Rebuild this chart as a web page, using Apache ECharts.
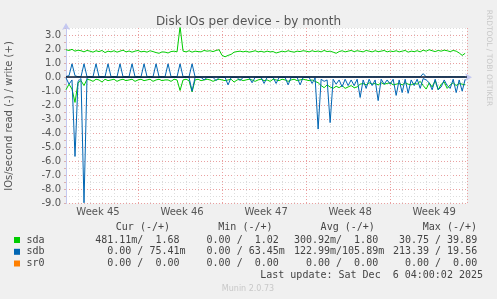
<!DOCTYPE html>
<html>
<head>
<meta charset="utf-8">
<script src="https://cdn.jsdelivr.net/npm/echarts@6/dist/echarts.min.js"></script>
<style>html,body{margin:0;padding:0;background:#f0f0f0;}#c{width:497px;height:299px;}</style>
</head>
<body>
<div id="c"></div>
<script>
// ---- data (one value every 6 hours, x in days from the left edge) ----
const STEP_DAYS = 0.25;
const weekLabels = {3: 'Week 45', 10: 'Week 46', 17: 'Week 47', 24: 'Week 48', 31: 'Week 49'};

const sdaWrite = [
  1.95,1.9,1.98,1.85,1.92,1.88,1.8,1.9,1.85,1.78,
  1.88,1.82,1.9,1.75,1.85,1.8,1.88,1.78,1.85,1.92,
  1.8,1.86,1.78,1.85,1.9,1.8,1.84,1.78,1.88,1.82,
  1.75,1.7,1.8,1.78,1.72,1.82,1.85,1.8,3.6,1.85,
  1.8,1.88,1.78,1.85,1.82,1.8,1.9,1.85,1.88,1.82,
  1.9,1.95,1.55,1.45,1.55,1.62,1.78,1.82,1.85,1.8,
  1.85,1.78,1.82,1.88,1.8,1.84,1.78,1.85,1.8,1.82,
  1.72,1.78,1.85,1.8,1.88,1.82,1.78,1.85,1.82,1.88,
  1.85,1.8,1.88,1.82,1.86,1.8,1.9,1.82,1.85,1.78,
  1.7,1.82,1.88,1.8,1.85,1.9,1.82,1.88,1.84,1.8,
  1.9,1.85,1.8,1.88,1.82,1.85,1.9,1.8,1.86,1.82,
  1.88,1.8,1.85,1.9,1.78,1.85,1.82,1.88,1.8,1.92,
  1.85,1.95,1.88,1.82,1.9,1.85,1.92,1.88,1.82,1.9,
  1.85,1.72,1.55,1.7
];
const sdaRead = [
  -0.9,-0.5,-0.85,-1.8,-0.4,-0.25,-0.6,-0.15,-0.2,-0.3,
  -0.15,-0.2,-0.35,-0.15,-0.25,-0.2,-0.15,-0.3,-0.2,-0.15,
  -0.25,-0.2,-0.15,-0.3,-0.2,-0.15,-0.25,-0.2,-0.15,-0.3,
  -0.2,-0.15,-0.25,-0.2,-0.2,-0.3,-0.15,-0.2,-0.95,-0.2,
  -0.15,-0.25,-1.05,-0.2,-0.15,-0.25,-0.2,-0.15,-0.2,-0.3,
  -0.2,-0.15,-0.2,-0.25,-0.2,-0.15,-0.35,-0.2,-0.15,-0.25,
  -0.2,-0.15,-0.2,-0.3,-0.2,-0.15,-0.25,-0.2,-0.3,-0.15,
  -0.2,-0.25,-0.15,-0.2,-0.3,-0.2,-0.15,-0.25,-0.2,-0.15,
  -0.2,-0.25,-0.2,-0.3,-0.4,-0.6,-0.75,-0.55,-0.7,-0.8,
  -0.65,-0.75,-0.6,-0.8,-0.7,-0.6,-0.75,-0.7,-0.5,-0.45,
  -0.55,-0.4,-0.5,-0.45,-0.55,-0.4,-0.5,-0.45,-0.4,-0.55,
  -0.5,-0.45,-0.55,-0.4,-0.5,-0.55,-0.45,-0.5,-0.3,-0.6,
  -0.85,-0.4,-0.7,-0.25,-0.9,-0.5,-0.35,-0.8,-0.55,-0.4,
  -0.6,-0.45,-0.5,-0.55
];
const sdbWrite = [
  0.05,0.1,0.95,0.1,0.03,0.03,0.95,0.03,0.05,0.03,
  0.95,0.03,0.05,0.03,0.95,0.03,0.05,0.03,0.95,0.03,
  0.05,0.03,0.95,0.03,0.05,0.03,0.95,0.03,0.05,0.03,
  0.95,0.03,0.05,0.03,0.95,0.03,0.05,0.03,0.95,0.03,
  0.05,0.03,0.95,0.03,0.02,0.02,0.02,0.02,0.02,0.02,
  0.02,0.02,0.02,0.02,0.02,0.02,0.02,0.02,0.02,0.02,
  0.02,0.02,0.02,0.02,0.02,0.02,0.02,0.02,0.02,0.02,
  0.02,0.02,0.02,0.02,0.02,0.02,0.02,0.02,0.02,0.02,
  0.02,0.02,0.02,0.02,0.02,0.02,0.02,0.02,0.02,0.02,
  0.02,0.02,0.02,0.02,0.02,0.02,0.02,0.02,0.02,0.02,
  0.02,0.02,0.02,0.02,0.02,0.02,0.02,0.02,0.02,0.02,
  0.02,0.02,0.02,0.02,0.02,0.02,0.02,0.02,0.02,0.25,
  0.02,0.02,0.02,0.02,0.02,0.02,0.02,0.02,0.02,0.02,
  0.02,0.02,0.02,0.02
];
const sdbRead = [
  -0.05,-0.5,-0.2,-5.65,-0.3,-0.1,-8.95,-0.05,-0.02,-0.02,
  -0.02,-0.02,-0.02,-0.02,-0.02,-0.02,-0.02,-0.02,-0.02,-0.02,
  -0.02,-0.02,-0.02,-0.02,-0.02,-0.02,-0.02,-0.02,-0.02,-0.02,
  -0.02,-0.02,-0.02,-0.02,-0.02,-0.02,-0.02,-0.02,-0.02,-0.02,
  -0.02,-0.02,-1.0,-0.02,-0.02,-0.02,-0.2,-0.02,-0.02,-0.02,
  -0.25,-0.02,-0.02,-0.02,-0.55,-0.02,-0.02,-0.02,-0.25,-0.02,
  -0.02,-0.02,-0.4,-0.02,-0.02,-0.02,-0.45,-0.02,-0.02,-0.02,
  -0.45,-0.02,-0.02,-0.02,-0.55,-0.02,-0.02,-0.02,-0.55,-0.02,
  -0.02,-0.02,-0.45,-0.05,-3.7,-0.15,-0.3,-0.2,-3.24,-0.15,
  -0.5,-0.2,-0.7,-0.15,-0.6,-0.2,-0.6,-0.15,-1.45,-0.2,
  -0.8,-0.15,-0.6,-0.2,-1.67,-0.15,-0.5,-0.2,-0.5,-0.15,
  -1.3,-0.2,-1.1,-0.15,-1.15,-0.2,-0.6,-0.15,-0.8,-0.1,
  -0.2,-0.4,-0.9,-0.15,-0.9,-0.7,-0.2,-0.6,-0.8,-0.15,
  -1.1,-0.2,-1.0,-0.15
];

const legendRows = ['sda', 'sdb', 'sr0'];
const legendColors = ['#00CC00', '#0066B3', '#FF8000'];
const legendHeaders = ['Cur (-/+)', 'Min (-/+)', 'Avg (-/+)', 'Max (-/+)'];
const legendCells = [
  ['481.11m/  1.68 ', '  0.00 /  1.02 ', '300.92m/  1.80 ', ' 30.75 / 39.89 '],
  ['  0.00 / 75.41m', '  0.00 / 63.45m', '122.99m/105.89m', '213.39 / 19.56 '],
  ['  0.00 /  0.00 ', '  0.00 /  0.00 ', '  0.00 /  0.00 ', '  0.00 /  0.00 ']
];
const lastUpdate = 'Last update: Sat Dec  6 04:00:02 2025';

// ---- chart ----
const toXY = arr => arr.map((v, i) => [i * STEP_DAYS, v]);
const chart = echarts.init(document.getElementById('c'), null, {renderer: 'canvas'});
const GRID_MINOR = '#dcdcdc';
const GRID_MAJOR = '#eaa0a0';
const mono = '"DejaVu Sans Mono", monospace';
const sans = '"DejaVu Sans", sans-serif';

const graphics = [];
graphics.push({type: 'text', x: 9, y: 116, rotation: Math.PI / 2,
  style: {text: 'IOs/second read (-) / write (+)', font: '10px ' + sans, fill: '#555', align: 'center', verticalAlign: 'middle'}});
graphics.push({type: 'text', x: 488.5, y: 58, rotation: -Math.PI / 2,
  style: {text: 'RRDTOOL / TOBI OETIKER', font: '7.5px ' + sans, fill: '#c8c8c8', align: 'center', verticalAlign: 'middle'}});
const colRight = [185.5, 284.8, 384.2, 483.2];
const headRight = [170, 272.5, 374.8, 477];
legendHeaders.forEach((h, j) => graphics.push({type: 'text', x: headRight[j], y: 227.5,
  style: {text: h, font: '10px ' + mono, fill: '#444', align: 'right', verticalAlign: 'middle'}}));
const rowY = [240, 251.8, 263.5];
legendRows.forEach((name, r) => {
  graphics.push({type: 'rect', shape: {x: 14, y: rowY[r] - 3, width: 6, height: 6}, style: {fill: legendColors[r]}});
  graphics.push({type: 'text', x: 26.5, y: rowY[r], style: {text: name, font: '10px ' + mono, fill: '#444', align: 'left', verticalAlign: 'middle'}});
  legendCells[r].forEach((c, j) => graphics.push({type: 'text', x: colRight[j], y: rowY[r],
    style: {text: c, font: '10px ' + mono, fill: '#444', align: 'right', verticalAlign: 'middle'}}));
});
graphics.push({type: 'text', x: 483, y: 275.7, style: {text: lastUpdate, font: '10px ' + mono, fill: '#444', align: 'right', verticalAlign: 'middle'}});
graphics.push({type: 'text', x: 248, y: 288.5, style: {text: 'Munin 2.0.73', font: '8px ' + sans, fill: '#c8c8c8', align: 'center', verticalAlign: 'middle'}});

const xSplitColors = [GRID_MINOR, GRID_MINOR, GRID_MINOR, GRID_MINOR, GRID_MINOR, GRID_MINOR, GRID_MAJOR];
const lineSeries = (name, data, color, z) => ({
  name, type: 'line', data: toXY(data), showSymbol: false, symbol: 'none', z,
  lineStyle: {color, width: 1}, itemStyle: {color}, animation: false
});

const zeroSeries = lineSeries('sdb read', sdbRead, '#0066B3', 4);
zeroSeries.markLine = {silent: true, symbol: 'none', label: {show: false}, animation: false,
  lineStyle: {color: '#0a1a30', type: 'solid', width: 1.5}, data: [{yAxis: 0}]};

chart.setOption({
  backgroundColor: '#f0f0f0',
  animation: false,
  title: {text: 'Disk IOs per device - by month', left: 'center', top: 11,
    textStyle: {fontFamily: 'DejaVu Sans', fontSize: 12, fontWeight: 'normal', color: '#555'}},
  grid: {left: 66, right: 30, top: 28, bottom: 95.5, show: true, backgroundColor: '#ffffff', borderWidth: 0},
  xAxis: {
    type: 'value', min: 0, max: 33.4, interval: 1,
    axisLine: {show: true, lineStyle: {color: '#c4c8f0', width: 1}, symbol: ['none', 'arrow'], symbolSize: [6, 7], symbolOffset: [0, 5]},
    axisTick: {show: false},
    splitLine: {show: true, lineStyle: {color: xSplitColors, type: [1, 2], width: 1}},
    axisLabel: {show: true, margin: 4, padding: [0, 8, 0, 0], fontFamily: 'DejaVu Sans', fontSize: 10, color: '#555',
      showMinLabel: true, showMaxLabel: true,
      formatter: v => weekLabels[v] || ''}
  },
  yAxis: {
    type: 'value', min: -9, max: 3.5, interval: 0.5,
    axisLine: {show: true, lineStyle: {color: '#c4c8f0', width: 1}, symbol: ['none', 'arrow'], symbolSize: [6, 7], symbolOffset: [0, 5]},
    axisTick: {show: true, length: 2, lineStyle: {color: '#d8b0b0'}},
    splitLine: {show: true, lineStyle: {color: [GRID_MAJOR, GRID_MINOR], type: [1, 2], width: 1}},
    axisLabel: {margin: 5, fontFamily: 'DejaVu Sans', fontSize: 10, color: '#555',
      formatter: v => Number.isInteger(v) ? v.toFixed(1) : ''}
  },
  series: [
    lineSeries('sda write', sdaWrite, '#00CC00', 1),
    lineSeries('sda read', sdaRead, '#00CC00', 1),
    lineSeries('sdb write', sdbWrite, '#0066B3', 3),
    zeroSeries
  ],
  graphic: graphics
});
</script>
</body>
</html>
